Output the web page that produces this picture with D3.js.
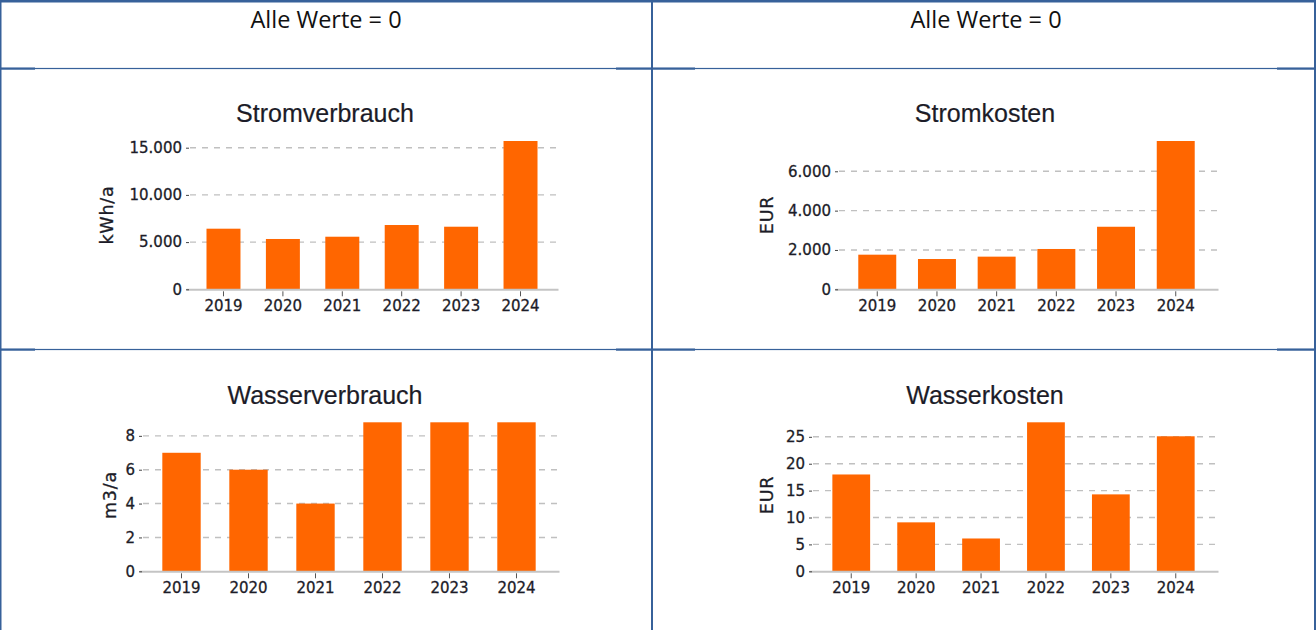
<!DOCTYPE html>
<html>
<head>
<meta charset="utf-8">
<script src="https://cdn.jsdelivr.net/npm/d3@7"></script>
<style>
  body { margin: 0; background: #fff; }
  svg { display: block; }
</style>
</head>
<body>
<svg width="1316" height="630"></svg>
<script>
// data
var years = ["2019", "2020", "2021", "2022", "2023", "2024"];

var stromVerbrauch  = [6420, 5330, 5570, 6810, 6630, 15710];
var stromKosten     = [1760, 1540, 1660, 2050, 3180, 7540];
var wasserVerbrauch = [7, 6, 4, 8.8, 8.8, 8.8];
var wasserKosten    = [18, 9.1, 6.1, 27.7, 14.3, 25.1];

var stromVerbrauchTicks  = [0, 5000, 10000, 15000];
var stromKostenTicks     = [0, 2000, 4000, 6000];
var wasserVerbrauchTicks = [0, 2, 4, 6, 8];
var wasserKostenTicks    = [0, 5, 10, 15, 20, 25];

var titles = ["Stromverbrauch", "Stromkosten", "Wasserverbrauch", "Wasserkosten"];
var units  = ["kWh/a", "EUR", "m3/a", "EUR"];
var headerText = "Alle Werte = 0";

var de = d3.formatLocale({decimal: ",", thousands: ".", grouping: [3], currency: ["", " €"]});
var fmt = de.format(",");

var tableColor = "#37619a";
var barColor = "#ff6600";
var textColor = "#1c1c28";

class BarChart {
  constructor(svg, opts) {
    let thisChart = this;
    thisChart.svg = svg;
    thisChart.o = opts;
    thisChart.x = d3.scaleBand()
        .domain(years)
        .range([opts.x0, opts.x1])
        .paddingInner(opts.pi)
        .paddingOuter(opts.po);
    thisChart.y = d3.scaleLinear()
        .domain([0, d3.max(opts.values)])
        .range([opts.bottom, opts.top]);
    thisChart.g = svg.append("g");
  }
}

BarChart.prototype.draw = function () {
  var thisChart = this, o = this.o, g = this.g;

  // dashed grid
  g.append("g").selectAll("line")
      .data(o.ticks.filter(function(d) { return d > 0; }))
    .enter().append("line")
      .attr("x1", o.x0 + 4)
      .attr("x2", o.x1)
      .attr("y1", function(d) { return thisChart.y(d); })
      .attr("y2", function(d) { return thisChart.y(d); })
      .attr("stroke", "#c0c0c0")
      .attr("stroke-width", 1.4)
      .attr("stroke-dasharray", "6,6");

  g.append("g").selectAll("rect")
      .data(o.values)
    .enter().append("rect")
      .attr("x", function(d, i) { return thisChart.x(years[i]); })
      .attr("width", thisChart.x.bandwidth())
      .attr("y", function(d) { return thisChart.y(d); })
      .attr("height", function(d) { return o.bottom - thisChart.y(d); })
      .attr("fill", barColor);

  var xAxis = g.append("g")
      .attr("transform", "translate(0," + o.bottom + ")")
      .call(d3.axisBottom(thisChart.x).tickSize(7).tickSizeOuter(0).tickPadding(4));
  xAxis.select(".domain")
      .attr("stroke", "#c4c4c4")
      .attr("stroke-width", 2);
  xAxis.selectAll(".tick line")
      .attr("y1", 2)
      .attr("stroke", "#555");
  xAxis.selectAll(".tick text")
      .attr("fill", textColor)
      .attr("stroke", textColor)
      .attr("stroke-width", 0.3)
      .style("font-family", "'DejaVu Sans', sans-serif")
      .style("font-size", "15px");

  var yAxis = g.append("g")
      .attr("transform", "translate(" + (o.x0 + 3) + ",0)")
      .call(d3.axisLeft(thisChart.y).tickValues(o.ticks).tickFormat(fmt).tickSize(3).tickPadding(4));
  yAxis.select(".domain").remove();
  yAxis.selectAll(".tick line").attr("stroke", "#444");
  yAxis.selectAll(".tick text")
      .attr("fill", textColor)
      .attr("stroke", textColor)
      .attr("stroke-width", 0.3)
      .style("font-family", "'DejaVu Sans', sans-serif")
      .style("font-size", "15px");

  g.append("text")
      .attr("x", o.titleX)
      .attr("y", o.titleY)
      .attr("text-anchor", "middle")
      .attr("dy", "0.35em")
      .attr("fill", textColor)
      .attr("stroke", textColor)
      .attr("stroke-width", 0.2)
      .style("font-family", "'Liberation Sans', Arial, sans-serif")
      .style("font-size", "25px")
      .text(o.title);

  g.append("text")
      .attr("transform", "translate(" + o.unitX + "," + o.unitY + ") rotate(-90)")
      .attr("text-anchor", "middle")
      .attr("dy", "0.35em")
      .attr("fill", textColor)
      .attr("stroke", textColor)
      .attr("stroke-width", 0.3)
      .style("font-family", "'DejaVu Sans', sans-serif")
      .style("font-size", "17.5px")
      .style("letter-spacing", "0.8px")
      .text(o.unit);
};

var svg = d3.select("svg");

// table grid (Word style)
var grid = svg.append("g").attr("fill", tableColor);
grid.append("rect").attr("x", 0).attr("y", 0).attr("width", 1316).attr("height", 2.5);
grid.append("rect").attr("x", 0).attr("y", 0).attr("width", 1.5).attr("height", 630);
grid.append("rect").attr("x", 651).attr("y", 0).attr("width", 2).attr("height", 630);
grid.append("rect").attr("x", 1314).attr("y", 0).attr("width", 2).attr("height", 630);
[68.5, 349.5].forEach(function(y) {
  grid.append("rect").attr("x", 0).attr("y", y - 0.6).attr("width", 1316).attr("height", 1.2);
  [[0, 35], [616, 695], [1277, 1316]].forEach(function(s) {
    grid.append("rect").attr("x", s[0]).attr("y", y - 1).attr("width", s[1] - s[0]).attr("height", 2.2);
  });
});

[326, 986].forEach(function(cx) {
  svg.append("text")
      .attr("x", cx)
      .attr("y", 28)
      .attr("text-anchor", "middle")
      .attr("fill", "#111")
      .style("font-family", "'Open Sans', sans-serif")
      .style("font-size", "23.5px")
      .text(headerText);
});

var charts = [
  {values: stromVerbrauch, ticks: stromVerbrauchTicks, x0: 186, x1: 558, pi: 0.428, po: 0.345,
   bottom: 289.3, top: 141, titleX: 325, titleY: 113, unitX: 107, unitY: 215},
  {values: stromKosten, ticks: stromKostenTicks, x0: 835, x1: 1218, pi: 0.364, po: 0.39,
   bottom: 289.3, top: 141, titleX: 985, titleY: 113, unitX: 767, unitY: 215},
  {values: wasserVerbrauch, ticks: wasserVerbrauchTicks, x0: 139, x1: 559, pi: 0.427, po: 0.348,
   bottom: 571.3, top: 422.3, titleX: 325, titleY: 395, unitX: 110, unitY: 495},
  {values: wasserKosten, ticks: wasserKostenTicks, x0: 809, x1: 1218, pi: 0.418, po: 0.36,
   bottom: 571.3, top: 422.3, titleX: 985, titleY: 395, unitX: 767, unitY: 495}
];

charts.forEach(function(c, i) {
  c.title = titles[i];
  c.unit = units[i];
  new BarChart(svg, c).draw();
});
</script>
</body>
</html>
